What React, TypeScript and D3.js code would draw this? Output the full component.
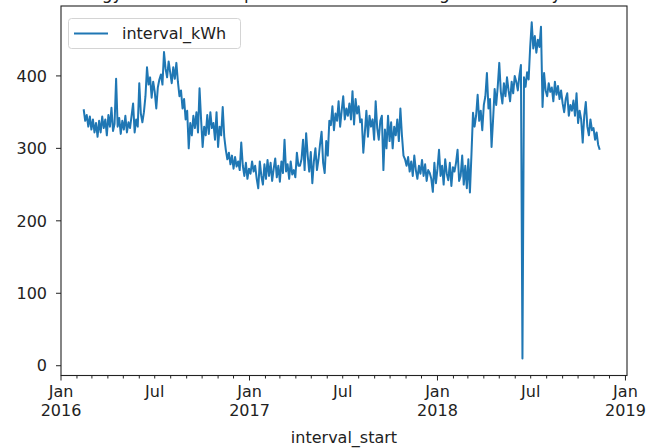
import React, { useRef, useEffect } from "react";
import * as d3 from "d3";

// daily energy, every 3rd day
const kwh2016Start = "2016-02-14";
const kwh2016 = [
  354, 338, 346, 330, 344, 326, 340, 322, 335, 316,
  338, 322, 344, 328, 340, 318, 346, 330, 356, 324,
  334, 396, 330, 342, 320, 338, 326, 345, 322, 336,
  328, 345, 362, 322, 340, 330, 390, 348, 336, 350,
  372, 412, 388, 398, 370, 392, 378, 355, 384, 395,
  402, 388, 433, 410, 398, 420, 405, 390, 412, 396,
  418, 392, 372, 380, 355, 368, 340, 352, 300, 335,
  318, 345, 328, 350, 322, 383, 340, 302, 330, 318,
  346, 320, 350, 328, 335, 312, 350, 302, 330, 318,
  357, 316, 298, 285, 294, 278, 290, 272, 288, 275,
  282, 270, 308, 276, 262, 280, 258, 272, 265, 282,
];
const kwh2017Start = "2017-01-09";
const kwh2017 = [
  268, 276, 258, 245, 282, 262, 250, 278, 258, 284,
  262, 280, 255, 272, 286, 260, 276, 254, 282, 266,
  312, 268, 278, 258, 282, 264, 270, 260, 294, 276,
  276, 285, 312, 270, 321, 290, 268, 295, 252, 282,
  300, 270, 285, 306, 323, 280, 266, 310, 290, 338,
  332, 358, 325, 348, 338, 365, 330, 352, 372, 340,
  355, 345, 362, 340, 379, 333, 368, 348, 358, 336,
  340, 294, 322, 352, 316, 345, 330, 340, 312, 365,
  328, 312, 338, 345, 270, 326, 300, 345, 310, 336,
  300, 330, 318, 340, 310, 355, 318, 290, 285, 276,
  288, 268, 282, 262, 290, 270, 258, 276, 265, 284,
  262, 278, 255, 270, 266, 258, 240, 280, 252, 272,
];
const kwh2018Start = "2018-01-04";
const kwh2018 = [
  298, 262, 276, 250, 285, 265, 256, 280, 248, 274,
  268, 280, 298, 255, 262, 290, 250, 276, 245, 285,
  239, 292, 349, 330, 345, 374, 338, 352, 325, 360,
  372, 404, 355, 368, 302, 340, 382, 360, 385, 418,
  378, 362, 390, 372, 398, 380, 365, 392, 376, 400,
  392, 380, 400, 415, 10, 398, 385, 405, 395, 440,
  474, 438, 455, 432, 450, 440, 468, 357, 404, 380,
  372, 390, 378, 384, 365, 392, 374, 386, 368, 380,
  362, 350, 368, 376, 345, 360, 352, 366, 345, 376,
  335, 352, 340, 308, 345, 364, 330, 318, 340, 325,
  328, 312, 322, 305, 298,
];
const stepDays = 3;

const yTicks = [0, 100, 200, 300, 400];
const seriesName = "interval_kWh";
const xName = "interval_start";
const title = "Total energy consumed at premises of the building for each day in total kWh";

const W = 658, H = 448;
const left = 61, right = 627, top = 6, bottom = 375.5;
const FONT = "DejaVu Sans, sans-serif";
const FS = 16;

function toPoints(start, values) {
  const t0 = d3.timeParse("%Y-%m-%d")(start);
  return values.map((v, i) => ({ date: d3.timeDay.offset(t0, i * stepDays), value: v }));
}

function App() {
  const svgRef = useRef(null);

  useEffect(() => {
    const svg = d3.select(svgRef.current);
    svg.selectAll("*").remove();

    const data = [
      ...toPoints(kwh2016Start, kwh2016),
      ...toPoints(kwh2017Start, kwh2017),
      ...toPoints(kwh2018Start, kwh2018),
    ];

    const xScale = d3.scaleTime()
      .domain([new Date(2016, 0, 1), new Date(2019, 0, 4)])
      .range([left, right]);
    const yScale = d3.scaleLinear()
      .domain([-13.5, 496.5])
      .range([bottom, top]);

    // title, cut off by the top of the picture
    svg.append("text")
      .attr("x", (left + right) / 2)
      .attr("y", -1)
      .attr("text-anchor", "middle")
      .attr("font-size", 17)
      .attr("fill", "#222")
      .text(title);

    // line
    const myLine = d3.line()
      .x(d => xScale(d.date))
      .y(d => yScale(d.value));
    svg.append("path")
      .datum(data)
      .attr("d", myLine)
      .attr("fill", "none")
      .attr("stroke", "#1f77b4")
      .attr("stroke-width", 2)
      .attr("stroke-linejoin", "round");

    // frame
    svg.append("rect")
      .attr("x", left).attr("y", top)
      .attr("width", right - left).attr("height", bottom - top)
      .attr("fill", "none")
      .attr("stroke", "#222")
      .attr("stroke-width", 1.1);

    // y ticks
    const yg = svg.append("g");
    yTicks.forEach(t => {
      yg.append("line")
        .attr("x1", left - 5).attr("x2", left)
        .attr("y1", yScale(t)).attr("y2", yScale(t))
        .attr("stroke", "#222");
      yg.append("text")
        .attr("x", left - 14).attr("y", yScale(t))
        .attr("dy", "0.36em")
        .attr("text-anchor", "end")
        .attr("font-size", FS)
        .attr("fill", "#222")
        .text(t);
    });

    // x ticks: months, Jan major with year, Jul labelled
    const months = d3.timeMonth.range(new Date(2016, 0, 1), new Date(2019, 0, 2));
    const xg = svg.append("g");
    months.forEach(m => {
      const x = xScale(m);
      const major = m.getMonth() === 0;
      xg.append("line")
        .attr("x1", x).attr("x2", x)
        .attr("y1", bottom).attr("y2", bottom + (major ? 5 : 3))
        .attr("stroke", "#222");
      if (major || m.getMonth() === 6) {
        const t = xg.append("text")
          .attr("x", x).attr("y", bottom + 21)
          .attr("text-anchor", "middle")
          .attr("font-size", FS)
          .attr("fill", "#222");
        t.append("tspan").attr("x", x).text(d3.timeFormat("%b")(m));
        if (major) t.append("tspan").attr("x", x).attr("dy", 19).text(d3.timeFormat("%Y")(m));
      }
    });

    svg.append("text")
      .attr("x", (left + right) / 2).attr("y", 443)
      .attr("text-anchor", "middle")
      .attr("font-size", FS)
      .attr("fill", "#222")
      .text(xName);

    // legend
    const lg = svg.append("g");
    lg.append("rect")
      .attr("x", 68.5).attr("y", 18.5)
      .attr("width", 172).attr("height", 30)
      .attr("rx", 3)
      .attr("fill", "white").attr("fill-opacity", 0.8)
      .attr("stroke", "#d4d4d4");
    lg.append("line")
      .attr("x1", 74).attr("x2", 108)
      .attr("y1", 33.5).attr("y2", 33.5)
      .attr("stroke", "#1f77b4").attr("stroke-width", 2);
    lg.append("text")
      .attr("x", 122).attr("y", 33.5)
      .attr("dy", "0.36em")
      .attr("font-size", FS)
      .attr("fill", "#222")
      .text(seriesName);
  }, []);

  return (
    <svg ref={svgRef} width={W} height={H}
      style={{ position: "absolute", left: 0, top: 0, display: "block", fontFamily: FONT, background: "white" }} />
  );
}

export default App;
